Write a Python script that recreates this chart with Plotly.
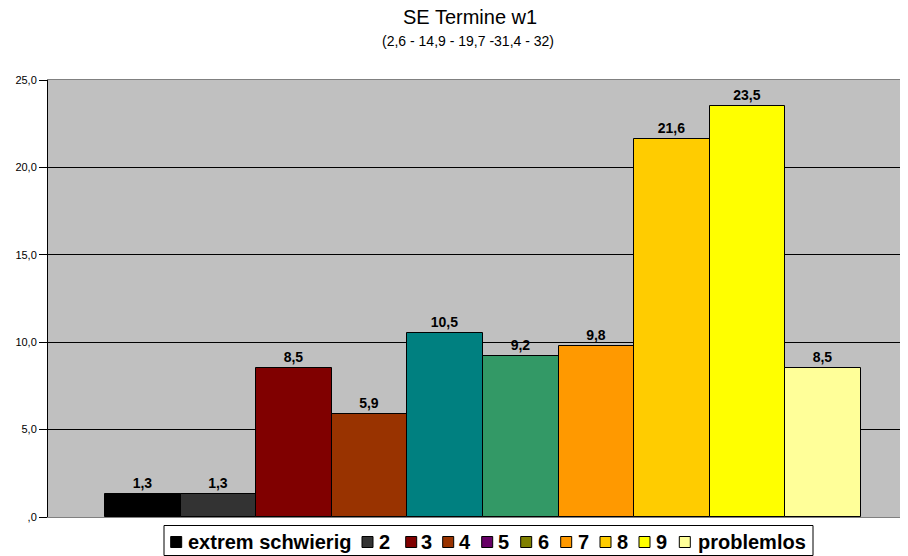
import plotly.graph_objects as go

# ---- data ----
categories = ["extrem schwierig", "2", "3", "4", "5", "6", "7", "8", "9", "problemlos"]
values = [1.3, 1.3, 8.5, 5.9, 10.5, 9.2, 9.8, 21.6, 23.5, 8.5]
bar_colors = ["#000000", "#333333", "#800000", "#993300", "#008080",
              "#339966", "#FF9900", "#FFCC00", "#FFFF00", "#FFFF99"]
legend_colors = ["#000000", "#333333", "#800000", "#993300", "#660066",
                 "#808000", "#FF9900", "#FFCC00", "#FFFF00", "#FFFF99"]
y_tickvals = [0, 5, 10, 15, 20, 25]
y_ticktext = [",0", "5,0", "10,0", "15,0", "20,0", "25,0"]
title = "SE Termine w1"
subtitle = "(2,6 - 14,9 - 19,7 -31,4 - 32)"

# ---- layout constants (page pixels; page body has an 8px margin) ----
OFF = 8
W, H = 908 - OFF, 556 - OFF
PL, PT, PB = 48, 80, 517          # plot area edges in page pixels
L, T = PL - OFF, PT - OFF
B = H - (PB - OFF)
R = 0
PW, PH = W - L - R, PB - PT
FONT = "Arial, Liberation Sans, sans-serif"


def px(x):
    return (x - PL) / PW


def py(y):
    return (PB - y) / PH


fig = go.Figure()
for name, v, c in zip(categories, values, bar_colors):
    fig.add_trace(go.Bar(
        x=[0], y=[v], name=name,
        marker=dict(color=c, line=dict(color="#000000", width=1)),
        text=[f"{v:.1f}".replace(".", ",")],
        textposition="outside",
        textfont=dict(family=FONT, size=14, color="#000000", weight="bold"),
        cliponaxis=False,
        showlegend=False,
    ))

# bars span 105..861 page px -> group of width 1 unit
unit = 756.0
a = -0.5 - (105 - PL) / unit
b = a + PW / unit

shapes = []
annotations = []

# legend (manual, compact like the original)
legend_sq = [170.7, 362, 405.7, 442.7, 481.7, 520.7, 560.7, 600, 639, 679.3]
legend_tx = [186, 377, 419, 457, 496, 536, 576, 614.5, 654, 696]
shapes.append(dict(type="rect", xref="paper", yref="paper",
                   x0=px(164), x1=px(813), y0=py(555.5), y1=py(525.5),
                   line=dict(color="#000000", width=1), fillcolor="#FFFFFF",
                   layer="above"))
for name, c, sx, tx in zip(categories, legend_colors, legend_sq, legend_tx):
    shapes.append(dict(type="rect", xref="paper", yref="paper",
                       x0=px(sx), x1=px(sx + 11), y0=py(547.5), y1=py(536.5),
                       line=dict(color="#000000", width=1), fillcolor=c,
                       layer="above"))
    annotations.append(dict(text=f"<b>{name}</b>", xref="paper", yref="paper",
                            x=px(tx), y=py(542), xanchor="left", yanchor="middle",
                            showarrow=False,
                            font=dict(family=FONT, size=20, color="#000000")))

annotations.append(dict(text=title, xref="paper", yref="paper",
                        x=px(470), y=py(17), xanchor="center", yanchor="middle",
                        showarrow=False, font=dict(family=FONT, size=20, color="#000000")))
annotations.append(dict(text=subtitle, xref="paper", yref="paper",
                        x=px(468), y=py(41), xanchor="center", yanchor="middle",
                        showarrow=False, font=dict(family=FONT, size=14, color="#000000")))

fig.update_layout(
    width=W, height=H,
    margin=dict(l=L, r=R, t=T, b=B, pad=0, autoexpand=False),
    paper_bgcolor="#FFFFFF",
    plot_bgcolor="#C0C0C0",
    barmode="group", bargap=0, bargroupgap=0,
    showlegend=False,
    shapes=shapes,
    annotations=annotations,
    font=dict(family=FONT, color="#000000"),
    xaxis=dict(range=[a, b], showticklabels=False, ticks="", showgrid=False,
               zeroline=False, showline=True, linecolor="#808080", linewidth=1,
               mirror=True, fixedrange=True),
    yaxis=dict(range=[0, 25], tickvals=y_tickvals, ticktext=y_ticktext,
               ticks="outside", ticklen=8, tickcolor="#000000", tickwidth=1,
               showgrid=True, gridcolor="#000000", gridwidth=1,
               zeroline=False, showline=True, linecolor="#000000", linewidth=1,
               tickfont=dict(family=FONT, size=11, color="#000000"),
               fixedrange=True),
)

fig.write_html("out.html")
